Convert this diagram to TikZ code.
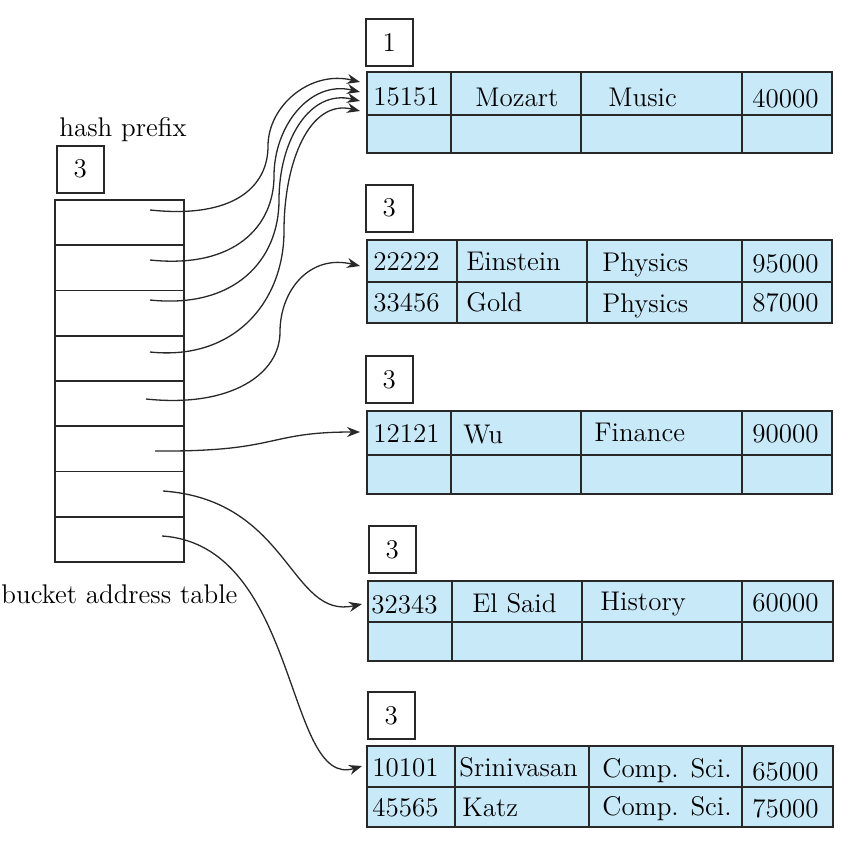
\documentclass[tikz,border=0pt]{standalone}
\usetikzlibrary{arrows.meta}
\definecolor{CellBlue}{RGB}{200,233,248}
\definecolor{InkGray}{RGB}{40,40,40}
\tikzset{
	MyPix/.style={x=0.5pt, y=-0.5pt, font=\fontsize{13.5}{16}\selectfont},
	Frame/.style={draw=InkGray, line width=0.8pt},
	HeadBox/.style={Frame, minimum width=23.5pt, minimum height=23.5pt, inner sep=0pt, anchor=north west},
	CellText/.style={anchor=base west, inner sep=0pt},
	Ptr/.style={InkGray, line width=0.65pt, -{Stealth[length=6.5pt, width=5pt]}}
}

\begin{document}
\begin{tikzpicture}[MyPix]
		\useasboundingbox (0,0) rectangle (849,840);
		\def\rowh{45.25} % Height of one slot of the address table

		% Bucket address table
		\node[CellText] (hp) at (59,136) {hash prefix};
		\node[HeadBox] (gd) at (56,145) {3};
		\draw[Frame] (55,200) rectangle (184,562);
		\foreach \k in {1,...,7}
			\draw[Frame] (55,{200+\k*\rowh}) -- (184,{200+\k*\rowh});
		\node[CellText] (bat) at (1,603) {bucket address table};

		% Bucket 1
		\node[HeadBox] (h1) at (365,18) {1};
		\filldraw[Frame, fill=CellBlue] (367,72) rectangle (832,153);
		\draw[Frame] (367,115) -- (832,115);
		\foreach \cx in {451,581,742}
			\draw[Frame] (\cx,72) -- (\cx,153);
		\foreach \x/\y/\txt [count=\k] in {373/105/15151, 475/106/Mozart, 608/106/Music, 752/107/40000}
			\node[CellText] (b1t\k) at (\x,\y) {\txt};

		% Bucket 2
		\node[HeadBox] (h2) at (365,184) {3};
		\filldraw[Frame, fill=CellBlue] (367,240) rectangle (832,323);
		\draw[Frame] (367,282) -- (832,282);
		\foreach \cx in {457,587,742}
			\draw[Frame] (\cx,240) -- (\cx,323);
		\foreach \x/\y/\txt [count=\k] in {373/270/22222, 466/270/Einstein, 602/271/Physics, 752/272/95000,
				373/311/33456, 466/311/Gold, 602/312/Physics, 752/311/87000}
			\node[CellText] (b2t\k) at (\x,\y) {\txt};

		% Bucket 3
		\node[HeadBox] (h3) at (365,355) {3};
		\filldraw[Frame, fill=CellBlue] (367,411) rectangle (832,494);
		\draw[Frame] (367,455) -- (832,455);
		\foreach \cx in {451,581,742}
			\draw[Frame] (\cx,411) -- (\cx,494);
		\foreach \x/\y/\txt [count=\k] in {373/442/12121, 463/443/Wu, 594/441/Finance, 752/442/90000}
			\node[CellText] (b3t\k) at (\x,\y) {\txt};

		% Bucket 4
		\node[HeadBox] (h4) at (368,525) {3};
		\filldraw[Frame, fill=CellBlue] (368,581) rectangle (833,661);
		\draw[Frame] (368,622) -- (833,622);
		\foreach \cx in {452,582,742}
			\draw[Frame] (\cx,581) -- (\cx,661);
		\foreach \x/\y/\txt [count=\k] in {371/613/32343, 472/612/El Said, 600/610/History, 752/611/60000}
			\node[CellText] (b4t\k) at (\x,\y) {\txt};

		% Bucket 5
		\node[HeadBox] (h5) at (367,691) {3};
		\filldraw[Frame, fill=CellBlue] (367,746) rectangle (833,827);
		\draw[Frame] (367,787) -- (833,787);
		\foreach \cx in {455,589,742}
			\draw[Frame] (\cx,746) -- (\cx,827);
		\foreach \x/\y/\txt [count=\k] in {372/776/10101, 459/776/Srinivasan, 602/777/Comp. Sci., 752/780/65000,
				372/816/45565, 462/816/Katz, 602/815/Comp. Sci., 752/817/75000}
			\node[CellText] (b5t\k) at (\x,\y) {\txt};

		% Slot pointers
		\coordinate (s1) at (150,210); \coordinate (m1) at (268,146); \coordinate (e1) at (360,82);
		\coordinate (s2) at (150,260); \coordinate (m2) at (274,176); \coordinate (e2) at (360,92);
		\coordinate (s3) at (150,300); \coordinate (m3) at (279,200); \coordinate (e3) at (360,101);
		\coordinate (s4) at (150,352); \coordinate (m4) at (284,231); \coordinate (e4) at (360,111);
		\coordinate (s5) at (146,399); \coordinate (m5) at (280,332); \coordinate (e5) at (360,266);
		\coordinate (s6) at (155,451); \coordinate (e6) at (360,432);
		\coordinate (s7) at (163,491); \coordinate (e7) at (362,604);
		\coordinate (s8) at (162,536); \coordinate (e8) at (362,766);

		\foreach \k/\t in {1/40, 2/50, 3/60, 4/70, 5/42}
			\draw[Ptr] (s\k) .. controls +(85,9) and +(0,\t) .. (m\k)
				.. controls +(0,-\t) and +(-50,-12) .. (e\k);
		\draw[Ptr] (s6) .. controls (280,452) and (265,432) .. (e6);
		\draw[Ptr] (s7) .. controls (290,500) and (290,620) .. (e7);
		\draw[Ptr] (s8) .. controls (300,545) and (285,790) .. (e8);
	\end{tikzpicture}
\end{document}
